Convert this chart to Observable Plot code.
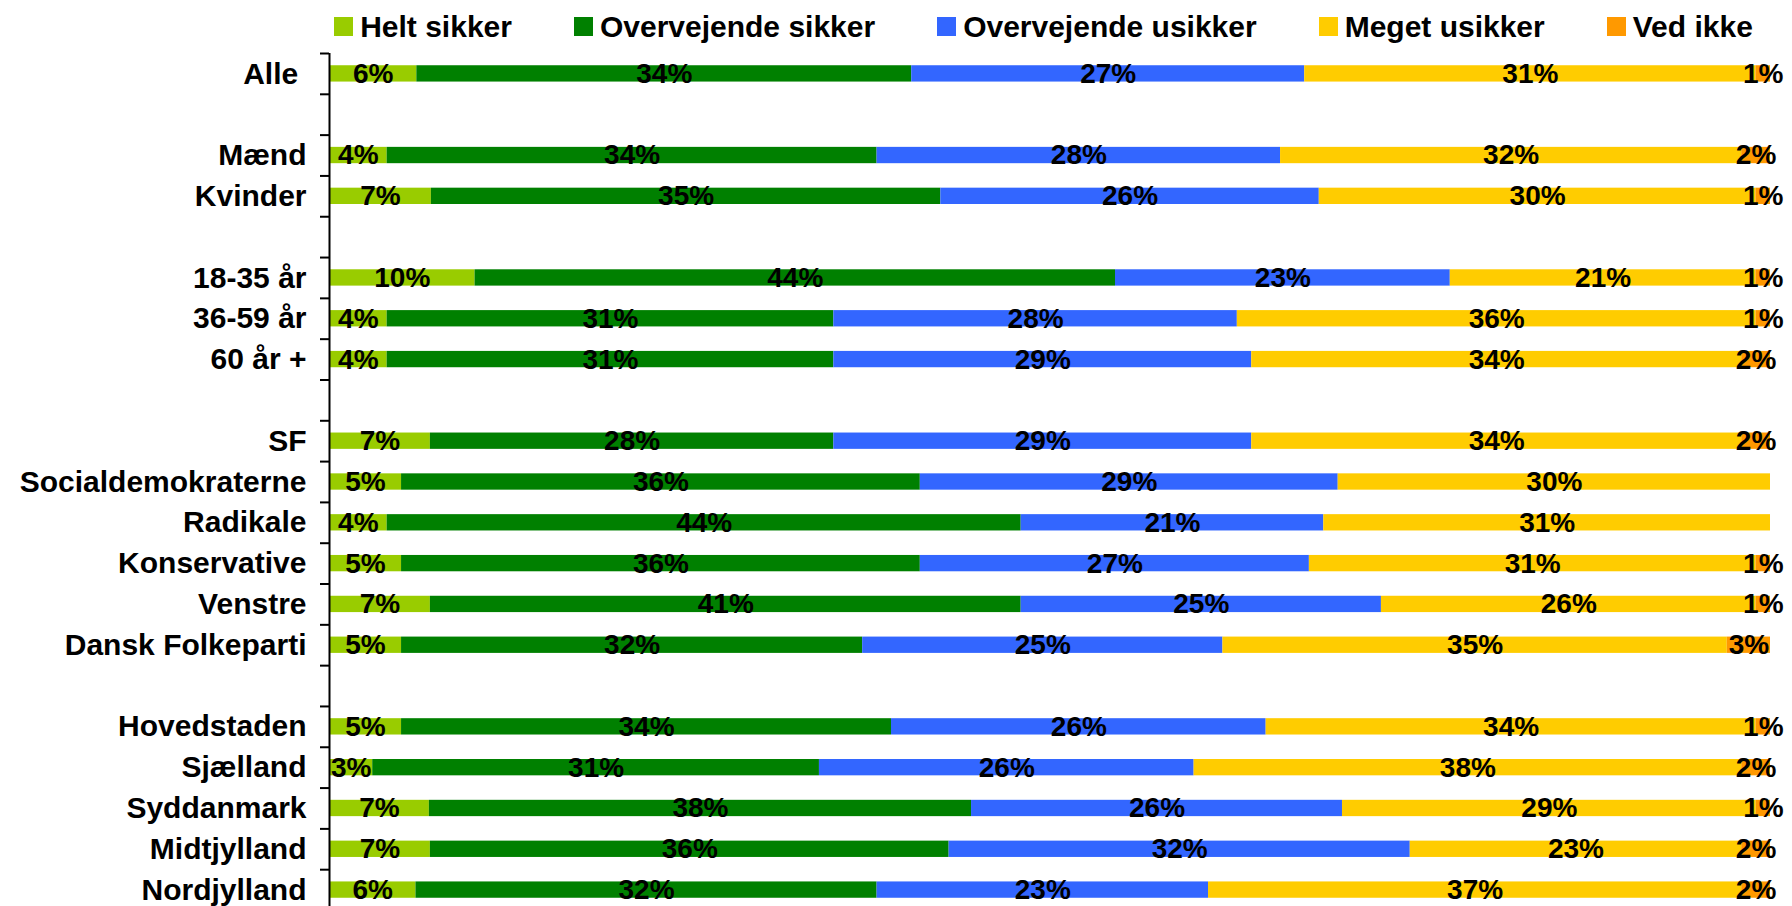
<!DOCTYPE html>
<html>
<head>
<meta charset="utf-8">
<script src="https://cdn.jsdelivr.net/npm/d3@7"></script>
<script src="https://cdn.jsdelivr.net/npm/@observablehq/plot@0.6"></script>
<style>
  html, body { margin: 0; padding: 0; background: #fff; overflow: hidden; width: 1792px; height: 906px; }
  body { font-family: "Liberation Sans", Arial, sans-serif; }
  #legend {
    height: 51px; box-sizing: border-box;
    padding-left: 329px; padding-right: 34px; padding-top: 2px;
    display: flex; justify-content: center; align-items: center; gap: 62px;
  }
  .item { display: flex; align-items: center; gap: 7px; font-weight: bold; font-size: 30px; line-height: 1; color: #000; }
  .sw { width: 19px; height: 19px; display: inline-block; }
  #chart { height: 855px; overflow: hidden; }
  #chart svg { display: block; }
</style>
</head>
<body>
<div id="legend"></div>
<div id="chart"></div>
<script>
const categories = [
  "Alle\u00a0", " ",
  "Mænd", "Kvinder", "  ",
  "18-35 år", "36-59 år", "60 år +", "   ",
  "SF", "Socialdemokraterne", "Radikale", "Konservative", "Venstre", "Dansk Folkeparti", "    ",
  "Hovedstaden", "Sjælland", "Syddanmark", "Midtjylland", "Nordjylland"
];
const responses = ["Helt sikker", "Overvejende sikker", "Overvejende usikker", "Meget usikker", "Ved ikke"];
const colors = ["#99CC00", "#008000", "#3366FF", "#FFCC00", "#FF9900"];

const helt       = {"Alle\u00a0":6, "Mænd":4, "Kvinder":7, "18-35 år":10, "36-59 år":4, "60 år +":4, "SF":7, "Socialdemokraterne":5, "Radikale":4, "Konservative":5, "Venstre":7, "Dansk Folkeparti":5, "Hovedstaden":5, "Sjælland":3, "Syddanmark":7, "Midtjylland":7, "Nordjylland":6};
const overSikker = {"Alle\u00a0":34, "Mænd":34, "Kvinder":35, "18-35 år":44, "36-59 år":31, "60 år +":31, "SF":28, "Socialdemokraterne":36, "Radikale":44, "Konservative":36, "Venstre":41, "Dansk Folkeparti":32, "Hovedstaden":34, "Sjælland":31, "Syddanmark":38, "Midtjylland":36, "Nordjylland":32};
const overUsikker= {"Alle\u00a0":27, "Mænd":28, "Kvinder":26, "18-35 år":23, "36-59 år":28, "60 år +":29, "SF":29, "Socialdemokraterne":29, "Radikale":21, "Konservative":27, "Venstre":25, "Dansk Folkeparti":25, "Hovedstaden":26, "Sjælland":26, "Syddanmark":26, "Midtjylland":32, "Nordjylland":23};
const meget      = {"Alle\u00a0":31, "Mænd":32, "Kvinder":30, "18-35 år":21, "36-59 år":36, "60 år +":34, "SF":34, "Socialdemokraterne":30, "Radikale":31, "Konservative":31, "Venstre":26, "Dansk Folkeparti":35, "Hovedstaden":34, "Sjælland":38, "Syddanmark":29, "Midtjylland":23, "Nordjylland":37};
const vedIkke    = {"Alle\u00a0":1, "Mænd":2, "Kvinder":1, "18-35 år":1, "36-59 år":1, "60 år +":2, "SF":2, "Socialdemokraterne":0, "Radikale":0, "Konservative":1, "Venstre":1, "Dansk Folkeparti":3, "Hovedstaden":1, "Sjælland":2, "Syddanmark":1, "Midtjylland":2, "Nordjylland":2};

const series = [helt, overSikker, overUsikker, meget, vedIkke];
const data = [];
for (const cat of categories) {
  if (!(cat in helt)) continue;
  series.forEach((s, i) => data.push({cat, resp: responses[i], value: s[cat]}));
}

// legend
const legend = document.getElementById("legend");
responses.forEach((r, i) => {
  const it = document.createElement("div");
  it.className = "item";
  const sw = document.createElement("span");
  sw.className = "sw";
  sw.style.background = colors[i];
  const tx = document.createElement("span");
  tx.textContent = r;
  it.appendChild(sw); it.appendChild(tx);
  legend.appendChild(it);
});

const height = 855, marginTop = 2, marginBottom = -4;
const step = (height - marginTop - marginBottom) / categories.length;
const inset = step * 0.3;

const chart = Plot.plot({
  width: 1792,
  height,
  marginLeft: 329,
  marginRight: 22,
  marginTop,
  marginBottom,
  style: {fontFamily: "'Liberation Sans', Arial, sans-serif", background: "#fff", color: "#000", maxWidth: "none"},
  x: {axis: null},
  y: {domain: categories, padding: 0, round: false, axis: null},
  color: {domain: responses, range: colors},
  marks: [
    Plot.barX(data, Plot.stackX({x: "value", y: "cat", fill: "resp", offset: "normalize", insetTop: inset, insetBottom: inset})),
    Plot.text(data.filter(d => d.value > 0), Plot.stackX({
      x: "value", y: "cat", z: "resp", offset: "normalize",
      text: d => d.value + "%",
      fontSize: 28, fontWeight: "bold", fill: "#000"
    })),
    Plot.axisY({tickSize: 0, tickPadding: 23, fontSize: 30, fontWeight: "bold", label: null, fill: "#000"}),
    Plot.axisY({tickSize: 9, tickFormat: () => "", dy: -step / 2, strokeWidth: 2, stroke: "#000", label: null}),
    Plot.ruleX([0], {strokeWidth: 2, stroke: "#000"})
  ]
});
document.getElementById("chart").appendChild(chart);
</script>
</body>
</html>
